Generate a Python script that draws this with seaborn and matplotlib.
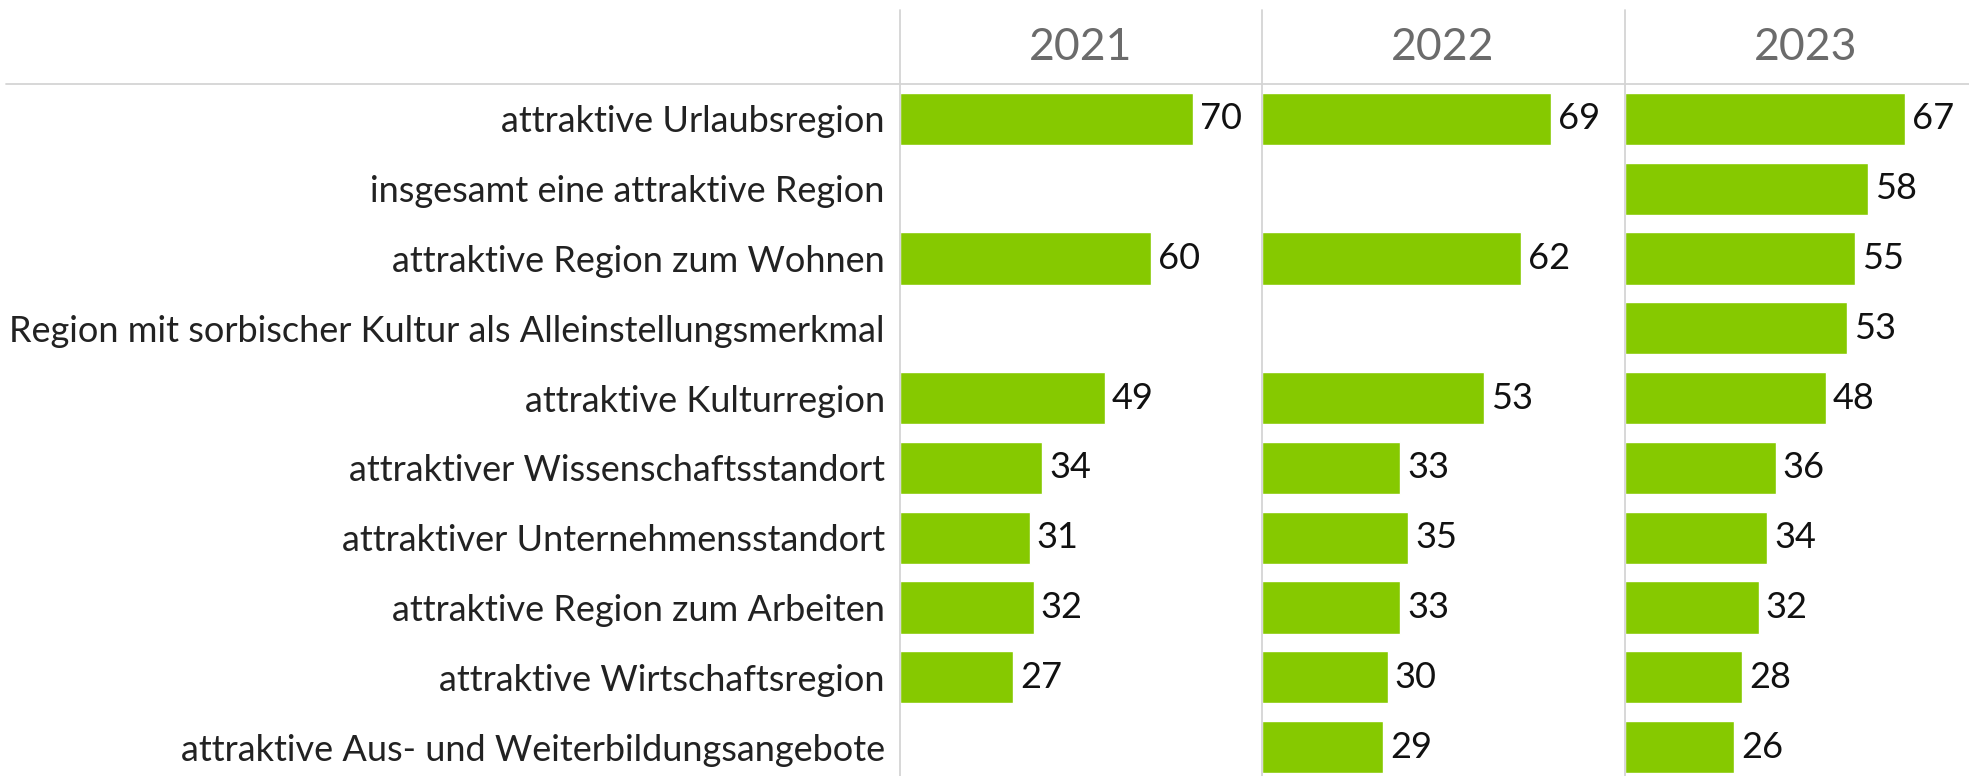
import pandas as pd
import numpy as np
import seaborn as sns
import matplotlib.pyplot as plt
from matplotlib.lines import Line2D

# Daten
categories = [
    "attraktive Urlaubsregion",
    "insgesamt eine attraktive Region",
    "attraktive Region zum Wohnen",
    "Region mit sorbischer Kultur als Alleinstellungsmerkmal",
    "attraktive Kulturregion",
    "attraktiver Wissenschaftsstandort",
    "attraktiver Unternehmensstandort",
    "attraktive Region zum Arbeiten",
    "attraktive Wirtschaftsregion",
    "attraktive Aus- und Weiterbildungsangebote",
]
years = ["2021", "2022", "2023"]
values_2021 = [70, np.nan, 60, np.nan, 49, 34, 31, 32, 27, np.nan]
values_2022 = [69, np.nan, 62, np.nan, 53, 33, 35, 33, 30, 29]
values_2023 = [67, 58, 55, 53, 48, 36, 34, 32, 28, 26]

GREEN = "#86c900"
GRID = "#d4d4d4"

sns.set_theme(style="white")
plt.rcParams["font.family"] = ["Lato", "DejaVu Sans"]

W, H = 1969, 776
fig = plt.figure(figsize=(W / 100, H / 100), dpi=100)

panel_left = [900, 1262, 1625]
panel_w = 362
top = 84
row_h = 69.8
ax_h = row_h * len(categories)
xmax = 86.5

series = [values_2021, values_2022, values_2023]
for i, (year, vals) in enumerate(zip(years, series)):
    df = pd.DataFrame({"Kategorie": categories, "Wert": vals})
    ax = fig.add_axes([panel_left[i] / W, (H - top - ax_h) / H, panel_w / W, ax_h / H])
    sns.barplot(data=df, x="Wert", y="Kategorie", orient="h", color=GREEN,
                width=0.75, saturation=1, ax=ax)
    ax.set_xlim(0, xmax)
    ax.set_ylim(len(categories) - 0.5, -0.5)
    ax.set_xlabel("")
    ax.set_ylabel("")
    ax.set_xticks([])
    for s in ax.spines.values():
        s.set_visible(False)
    if i == 0:
        ax.tick_params(axis="y", length=0, pad=11, labelsize=26, labelcolor="#222222")
    else:
        ax.set_yticks([])
    for j, v in enumerate(vals):
        if not np.isnan(v):
            ax.annotate(f"{v:.0f}", (v, j), xytext=(5, 0), textcoords="offset points",
                        va="center", ha="left", fontsize=26, color="#111111")
    # Jahreskopf
    fig.text((panel_left[i] + panel_w / 2) / W, (H - 48) / H, year,
             ha="center", va="center", fontsize=32, color="#6b6b6b")

# Trennlinien
for x in panel_left:
    fig.add_artist(Line2D([x / W, x / W], [0, (H - 10) / H], color=GRID, lw=1.3))
fig.add_artist(Line2D([6 / W, 1], [(H - top) / H, (H - top) / H], color=GRID, lw=1.3))

fig.savefig("out.png", dpi=100, facecolor="white")
